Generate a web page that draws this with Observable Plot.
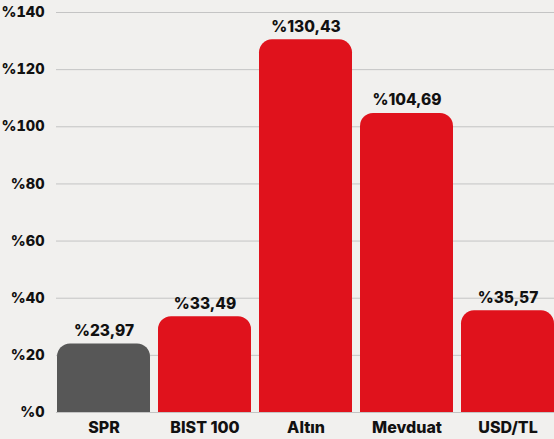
<!DOCTYPE html>
<html>
<head>
<meta charset="utf-8">
<script src="https://cdn.jsdelivr.net/npm/d3@7"></script>
<script src="https://cdn.jsdelivr.net/npm/@observablehq/plot@0.6"></script>
<style>
  html, body { margin: 0; padding: 0; background: #f1f0ee; }
  #chart svg { display: block; }
</style>
</head>
<body>
<div id="chart"></div>
<script>
const categories = ["SPR", "BIST 100", "Altın", "Mevduat", "USD/TL"];
const values = [23.97, 33.49, 130.43, 104.69, 35.57];
const colors = ["#575757", "#e0121c", "#e0121c", "#e0121c", "#e0121c"];
const yTicks = [0, 20, 40, 60, 80, 100, 120, 140];

const data = categories.map((c, i) => ({cat: c, value: values[i], color: colors[i]}));
const fmt = v => "%" + v.toFixed(2).replace(".", ",");
const font = "Inter, 'Open Sans', sans-serif";

const chart = Plot.plot({
  width: 554,
  height: 439,
  marginTop: 12,
  marginBottom: 27,
  marginLeft: 56,
  marginRight: 0,
  style: {background: "#f1f0ee", fontFamily: font, color: "#111"},
  x: {domain: categories, paddingInner: 0.08, paddingOuter: 0, label: null},
  y: {domain: [0, 140], ticks: yTicks, label: null},
  marks: [
    Plot.gridY(yTicks, {stroke: "#c4c4c4", strokeOpacity: 1, strokeWidth: 1}),
    Plot.barY(data, {x: "cat", y: "value", fill: "color", ry1: 13}),
    Plot.text(data, {x: "cat", y: "value", text: d => fmt(d.value), dy: -13, fontSize: 15.5, fontWeight: 800, fill: "#111"}),
    Plot.axisY(yTicks, {tickSize: 0, tickPadding: 12, tickFormat: d => "%" + d, fontSize: 14.5, fontWeight: 800, fill: "#111"}),
    Plot.axisX({tickSize: 0, tickPadding: 9, fontSize: 16, fontWeight: 800, fill: "#111"})
  ]
});
document.getElementById("chart").appendChild(chart);
</script>
</body>
</html>
